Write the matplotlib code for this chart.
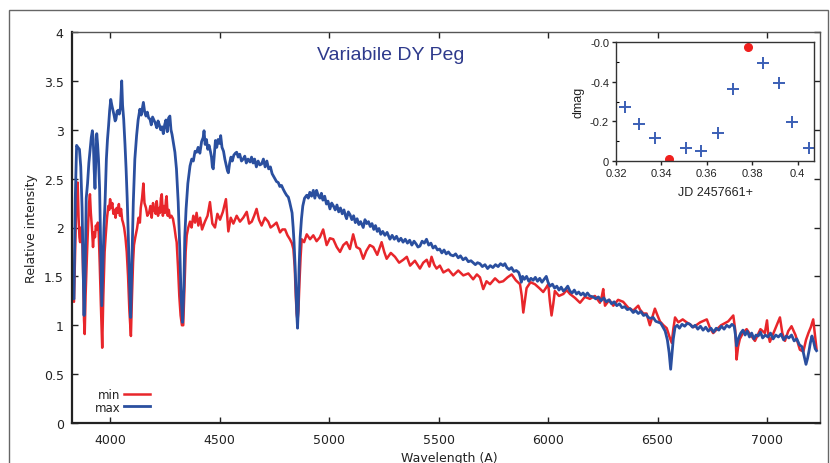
import matplotlib
matplotlib.use("Agg")
import matplotlib.pyplot as plt
from matplotlib.patches import Rectangle

# ---------------- data ----------------
max_wl = [3828,3835,3841,3847,3853,3860,3866,3872,3877,3881,3886,3891,3897,3903,3909,3914,3919,3923,3927,3931,
          3935,3939,3943,3947,3952,3957,3962,3967,3972,3977,3983,3988,3993,3998,4003,4008,4013,4018,4023,4027,
          4032,4037,4042,4047,4050,4053,4057,4062,4068,4073,4078,4083,4088,4094,4099,4106,4113,4121,4128,4136,
          4142,4148,4152,4158,4164,4170,4176,4182,4188,4194,4200,4206,4213,4219,4225,4231,4237,4243,4249,4255,
          4261,4267,4273,4278,4283,4290,4296,4303,4311,4318,4324,4331,4337,4341,4347,4355,4365,4373,4380,4388,
          4395,4402,4410,4418,4425,4429,4434,4440,4446,4452,4458,4463,4467,4471,4476,4481,4487,4493,4500,4505,
          4511,4518,4524,4530,4536,4540,4546,4552,4558,4565,4572,4578,4585,4592,4600,4608,4615,4622,4630,4639,
          4646,4653,4660,4668,4676,4684,4692,4700,4708,4716,4724,4732,4740,4745,4752,4760,4768,4775,4783,4791,
          4798,4806,4814,4820,4826,4831,4836,4840,4845,4849,4853,4856,4859,4863,4868,4874,4880,4888,4898,4905,
          4912,4920,4928,4935,4943,4950,4958,4965,4972,4980,4988,4995,5004,5012,5020,5028,5036,5044,5052,5060,
          5068,5075,5080,5088,5096,5104,5112,5120,5128,5136,5144,5156,5164,5172,5180,5188,5196,5204,5212,5220,
          5228,5236,5245,5255,5265,5278,5288,5298,5308,5318,5328,5338,5348,5358,5368,5378,5388,5398,5406,5415,
          5425,5435,5445,5455,5465,5475,5485,5495,5505,5515,5525,5535,5545,5555,5567,5578,5590,5600,5612,5624,
          5636,5648,5658,5668,5678,5689,5700,5712,5724,5736,5748,5760,5772,5783,5795,5803,5812,5822,5833,5844,
          5855,5866,5872,5878,5884,5892,5902,5912,5922,5932,5942,5952,5962,5972,5982,5992,6000,6009,6020,6030,
          6040,6050,6060,6070,6080,6090,6100,6110,6120,6130,6140,6150,6160,6170,6180,6190,6206,6218,6230,6242,
          6254,6266,6278,6290,6302,6314,6326,6338,6350,6362,6375,6389,6400,6412,6424,6436,6448,6458,6468,6480,
          6492,6505,6515,6525,6535,6545,6553,6560,6566,6572,6580,6590,6600,6612,6624,6636,6648,6660,6672,6684,
          6696,6708,6720,6732,6744,6756,6768,6780,6792,6804,6816,6828,6840,6850,6856,6861,6866,6872,6880,6890,
          6900,6910,6920,6930,6940,6950,6960,6970,6980,6992,7004,7016,7028,7040,7052,7064,7076,7088,7100,7112,
          7124,7136,7148,7160,7170,7178,7185,7192,7198,7205,7212,7220,7226]
max_int = [1.30,1.27,2.30,2.84,2.82,2.80,2.62,2.20,1.60,1.10,1.55,2.30,2.45,2.66,2.80,2.92,2.99,2.90,2.60,2.40,
           2.70,2.96,2.85,2.70,2.40,1.80,1.20,1.60,2.00,2.26,2.70,2.90,3.04,3.20,3.31,3.25,3.20,3.15,3.09,3.11,
           3.19,3.20,3.16,3.22,3.35,3.50,3.25,3.11,2.85,2.60,2.30,1.92,1.50,1.08,1.60,2.26,2.70,2.94,3.10,3.21,
           3.15,3.23,3.28,3.18,3.14,3.18,3.12,3.11,3.05,3.13,3.10,3.07,3.02,3.09,3.05,3.00,3.03,2.96,3.05,3.10,
           2.98,3.12,3.14,3.00,2.95,2.85,2.77,2.60,2.26,1.80,1.30,1.03,1.40,1.90,2.19,2.45,2.63,2.70,2.68,2.78,
           2.77,2.82,2.76,2.88,2.92,2.99,2.85,2.90,2.80,2.84,2.78,2.72,2.62,2.60,2.75,2.89,2.82,2.90,2.86,2.94,
           2.82,2.78,2.70,2.64,2.58,2.56,2.66,2.72,2.68,2.74,2.76,2.77,2.72,2.75,2.68,2.70,2.73,2.66,2.70,2.67,
           2.72,2.66,2.70,2.62,2.68,2.64,2.65,2.70,2.62,2.68,2.60,2.62,2.55,2.53,2.50,2.47,2.46,2.42,2.43,2.39,
           2.36,2.33,2.31,2.26,2.20,2.15,2.00,1.85,1.60,1.34,1.10,0.97,1.15,1.58,1.90,2.09,2.22,2.30,2.33,2.30,
           2.36,2.32,2.38,2.30,2.38,2.33,2.30,2.35,2.28,2.32,2.24,2.27,2.19,2.25,2.22,2.18,2.23,2.16,2.20,2.14,
           2.18,2.12,2.09,2.16,2.13,2.08,2.12,2.05,2.09,2.03,2.06,2.00,2.08,2.04,2.06,2.01,2.04,1.98,2.02,1.96,
           1.99,1.93,1.96,1.92,1.95,1.88,1.92,1.88,1.91,1.86,1.89,1.85,1.88,1.84,1.87,1.82,1.86,1.83,1.80,1.81,
           1.86,1.84,1.88,1.82,1.84,1.79,1.81,1.77,1.78,1.74,1.77,1.73,1.75,1.72,1.71,1.73,1.69,1.71,1.67,1.69,
           1.65,1.66,1.64,1.62,1.64,1.63,1.60,1.62,1.58,1.61,1.59,1.62,1.60,1.63,1.61,1.63,1.59,1.57,1.59,1.55,
           1.56,1.54,1.50,1.44,1.50,1.47,1.50,1.45,1.48,1.46,1.49,1.45,1.48,1.44,1.47,1.50,1.44,1.40,1.42,1.38,
           1.40,1.36,1.39,1.35,1.37,1.40,1.35,1.33,1.36,1.32,1.34,1.31,1.33,1.30,1.33,1.30,1.29,1.27,1.29,1.25,
           1.28,1.24,1.26,1.22,1.24,1.20,1.22,1.18,1.19,1.16,1.17,1.13,1.15,1.12,1.14,1.10,1.11,1.08,1.07,1.08,
           1.04,1.03,1.02,0.98,0.94,0.85,0.72,0.55,0.70,0.86,0.98,1.00,0.97,1.01,0.99,1.02,1.01,0.98,1.00,0.96,
           0.99,0.95,0.98,0.94,0.97,0.93,0.97,0.95,0.99,0.96,1.00,0.98,1.01,0.99,0.90,0.79,0.84,0.88,0.92,0.95,
           0.90,0.94,0.88,0.92,0.86,0.90,0.89,0.93,0.87,0.90,0.88,0.92,0.86,0.90,0.88,0.91,0.85,0.89,0.87,0.90,
           0.84,0.86,0.80,0.78,0.68,0.60,0.66,0.74,0.82,0.89,0.84,0.76,0.74]

min_wl = [3830,3835,3840,3845,3849,3852,3856,3860,3863,3868,3872,3877,3881,3884,3888,3894,3900,3904,3908,3912,
          3917,3922,3926,3931,3935,3939,3944,3948,3953,3958,3964,3969,3975,3980,3986,3992,3996,4000,4005,4010,
          4015,4020,4025,4030,4035,4040,4045,4050,4055,4059,4064,4070,4076,4082,4088,4095,4100,4105,4109,4115,
          4123,4130,4136,4140,4146,4152,4157,4164,4170,4178,4184,4190,4196,4202,4208,4213,4219,4224,4228,4232,
          4236,4241,4246,4251,4255,4258,4263,4268,4273,4280,4287,4294,4300,4304,4310,4316,4322,4328,4334,4340,
          4345,4350,4357,4365,4372,4380,4388,4395,4403,4411,4420,4433,4445,4456,4467,4479,4490,4502,4515,4529,
          4540,4551,4563,4578,4593,4608,4624,4635,4647,4658,4669,4680,4692,4707,4722,4733,4745,4760,4776,4787,
          4799,4810,4821,4830,4837,4843,4848,4852,4856,4860,4865,4870,4875,4886,4898,4913,4928,4943,4958,4973,
          4989,5004,5019,5035,5050,5065,5080,5095,5110,5125,5141,5156,5170,5186,5202,5220,5240,5252,5263,5282,
          5301,5320,5339,5355,5370,5392,5415,5430,5446,5458,5468,5480,5491,5506,5522,5545,5567,5590,5613,5636,
          5658,5675,5689,5704,5719,5735,5758,5777,5795,5815,5834,5853,5872,5880,5887,5894,5902,5920,5940,5960,
          5978,5990,6001,6008,6016,6024,6031,6050,6070,6085,6100,6123,6146,6168,6191,6214,6237,6246,6252,6256,
          6260,6280,6298,6320,6343,6366,6389,6412,6420,6435,6450,6465,6488,6500,6511,6527,6542,6555,6565,6572,
          6580,6595,6615,6633,6648,6664,6695,6725,6740,6754,6790,6823,6846,6855,6861,6868,6876,6890,6907,6925,
          6945,6970,6990,7000,7006,7013,7035,7059,7070,7082,7097,7112,7130,7150,7166,7178,7189,7200,7211,7220,
          7226]
min_int = [1.26,1.24,1.70,2.20,2.44,2.46,2.10,1.90,1.85,2.00,1.98,1.50,1.05,0.91,1.30,1.70,2.05,2.25,2.34,2.15,
           2.00,1.80,1.95,1.90,2.02,1.98,2.05,1.95,1.60,1.20,0.77,1.30,1.75,1.92,2.10,2.22,2.18,2.29,2.20,2.25,
           2.14,2.18,2.10,2.20,2.15,2.24,2.12,2.19,2.08,2.05,2.00,1.90,1.75,1.50,1.15,0.89,1.30,1.65,1.82,1.90,
           1.99,2.10,2.05,2.20,2.30,2.45,2.25,2.20,2.12,2.15,2.22,2.10,2.25,2.18,2.14,2.27,2.12,2.20,2.15,2.30,
           2.34,2.12,2.22,2.15,2.28,2.32,2.12,2.18,2.10,2.12,2.09,2.00,1.90,1.85,1.60,1.30,1.10,1.00,1.00,1.40,
           1.75,1.92,2.00,2.06,2.00,2.12,2.05,2.15,2.02,2.10,1.98,2.06,2.12,2.26,2.04,2.00,2.14,2.08,2.16,2.29,
           1.96,2.10,2.04,2.12,2.06,2.10,2.16,2.04,2.06,2.12,2.19,2.08,2.02,2.10,2.06,2.00,2.02,2.05,1.95,1.98,
           1.98,1.92,1.88,1.84,1.78,1.60,1.30,1.12,1.05,1.15,1.45,1.70,1.88,1.85,1.93,1.88,1.92,1.86,1.90,1.98,
           1.82,1.89,1.88,1.80,1.75,1.82,1.85,1.78,1.93,1.80,1.78,1.68,1.76,1.82,1.80,1.72,1.85,1.75,1.68,1.74,
           1.70,1.64,1.67,1.70,1.61,1.66,1.58,1.64,1.67,1.60,1.70,1.62,1.58,1.61,1.54,1.57,1.51,1.56,1.51,1.53,
           1.47,1.52,1.49,1.37,1.45,1.42,1.48,1.44,1.45,1.49,1.52,1.46,1.42,1.30,1.13,1.25,1.38,1.44,1.42,1.38,
           1.34,1.38,1.42,1.25,1.10,1.22,1.35,1.30,1.32,1.36,1.32,1.28,1.23,1.29,1.27,1.30,1.23,1.30,1.37,1.28,
           1.20,1.26,1.20,1.26,1.24,1.18,1.15,1.20,1.16,1.12,1.12,1.00,1.17,1.10,1.04,1.00,0.97,0.88,0.82,0.96,
           1.08,1.03,1.06,1.03,1.01,0.98,1.03,1.06,0.97,0.92,1.00,1.04,1.10,0.95,0.65,0.78,0.86,0.92,0.96,0.90,
           0.84,0.96,0.92,1.05,0.90,0.83,0.95,1.08,0.92,0.84,0.94,0.99,0.90,0.75,0.73,0.85,0.92,0.98,1.06,0.88,
           0.76]

jd_plus = [0.3238, 0.3303, 0.3372, 0.3507, 0.3574, 0.3648, 0.3714, 0.3849, 0.3917, 0.3977, 0.4052]
dmag_plus = [-0.272, -0.188, -0.118, -0.064, -0.050, -0.139, -0.361, -0.496, -0.395, -0.197, -0.064]
jd_red = [0.3435, 0.3780]
dmag_red = [-0.012, -0.575]

main_xticks = [4000, 4500, 5000, 5500, 6000, 6500, 7000]
main_yticks = [0, 0.5, 1, 1.5, 2, 2.5, 3, 3.5, 4]
main_yticklabels = ["0", "0.5", "1", "1.5", "2", "2.5", "3", "3.5", "4"]
inset_xticks = [0.32, 0.34, 0.36, 0.38, 0.40]
inset_xticklabels = ["0.32", "0.34", "0.36", "0.38", "0.4"]
inset_yticks = [0, -0.2, -0.4, -0.6]
inset_yticklabels = ["0", "-0.2", "-0.4", "-0.0"]

RED = "#e8262b"
BLUE = "#2a4f9f"

# ---------------- figure ----------------
W, H = 830, 464
fig = plt.figure(figsize=(W / 100, H / 100), dpi=100)
fig.patch.set_facecolor("white")

# outer frame
fig.add_artist(Rectangle((9 / W, -0.05), (828 - 9) / W, 1 - 11 / H + 0.05,
                         transform=fig.transFigure, fill=False, lw=1.0, ec="#666666"))

ax = fig.add_axes([72 / W, (H - 424) / H, (820 - 72) / W, (424 - 33) / H])
ax.plot(min_wl, min_int, color=RED, lw=1.8, label="min", solid_joinstyle="round")
ax.plot(max_wl, max_int, color=BLUE, lw=2.0, label="max", solid_joinstyle="round")
ax.set_xlim(3826, 7242)
ax.set_ylim(0, 4)
ax.set_xticks(main_xticks)
ax.set_xticklabels([str(t) for t in main_xticks])
ax.set_yticks(main_yticks)
ax.set_yticklabels(main_yticklabels)
ax.tick_params(direction="in", length=4, width=1, top=True, right=True,
               labelsize=9, colors="#222222", pad=6)
ax.tick_params(axis="x", pad=7)
for s in ["left", "bottom"]:
    ax.spines[s].set_linewidth(1.6)
    ax.spines[s].set_color("#222222")
for s in ["top", "right"]:
    ax.spines[s].set_linewidth(1.0)
    ax.spines[s].set_color("#555555")
ax.set_xlabel("Wavelength (A)", fontsize=9, color="#222222", labelpad=2)
ax.set_ylabel("Relative intensity", fontsize=9, color="#222222", labelpad=4)
ax.xaxis.set_label_coords(0.505, -0.072)

ax.text((391 - 72) / (820 - 72), (424 - 56) / (424 - 33), "Variabile DY Peg",
        transform=ax.transAxes, ha="center", va="center",
        fontsize=14, color="#2e3a8c", family="Liberation Sans")

leg = ax.legend(loc="lower left", bbox_to_anchor=(0.018, 0.0), frameon=False,
                markerfirst=False, handlelength=2.2, handletextpad=0.3,
                labelspacing=-0.05, fontsize=8.5, borderaxespad=0.4)
for t in leg.get_texts():
    t.set_color("#222222")

# ---------------- inset ----------------
ia = fig.add_axes([616 / W, (H - 162) / H, (814 - 616) / W, (162 - 43) / H])
ia.plot(jd_plus, dmag_plus, linestyle="none", marker="+", ms=9, mew=1.4, color="#3b5fb5")
ia.plot(jd_red, dmag_red, linestyle="none", marker="o", ms=5.5, color="#f0201e", mec="#f0201e")
ia.set_xlim(0.32, 0.4072)
ia.set_ylim(0, -0.6)
ia.set_xticks(inset_xticks)
ia.set_xticklabels(inset_xticklabels)
ia.set_yticks(inset_yticks)
ia.set_yticklabels(inset_yticklabels)
ia.set_yticks([-0.1, -0.3, -0.5], minor=True)
ia.tick_params(which="major", direction="out", length=3, width=1, labelsize=8,
               colors="#222222", pad=2)
ia.tick_params(which="minor", axis="y", direction="in", length=2, width=0.8)
for lab in ia.get_xticklabels() + ia.get_yticklabels():
    lab.set_family("Liberation Sans")
for s in ia.spines.values():
    s.set_linewidth(1.0)
    s.set_color("#333333")
ia.set_xlabel("JD 2457661+", fontsize=9, family="Liberation Sans", color="#222222", labelpad=6)
ia.set_ylabel("dmag", fontsize=9, family="Liberation Sans", color="#222222", labelpad=4)

fig.savefig("out.png", dpi=100, facecolor="white")
